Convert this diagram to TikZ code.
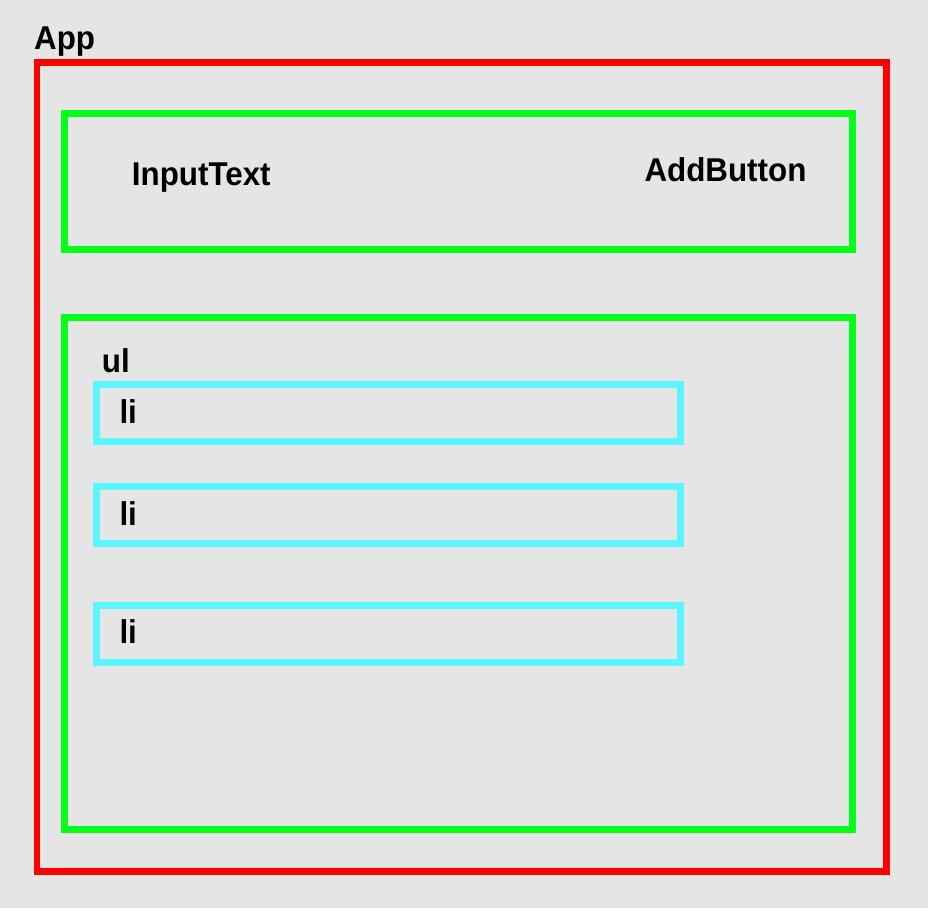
\documentclass[tikz,border=0pt]{standalone}
\usepackage{fontspec}
\setmainfont{Liberation Sans}[FakeStretch=0.95]
\usepackage{tikz}
\definecolor{bggray}{RGB}{229,229,229}
\definecolor{appred}{RGB}{255,0,0}
\definecolor{boxgreen}{RGB}{5,255,25}
\definecolor{itemcyan}{RGB}{90,245,255}
\tikzset{
  box/.style={draw, rectangle, inner sep=0pt, outer sep=0pt, anchor=north west},
  appbox/.style={box, draw=appred, line width=6.6pt},
  partbox/.style={box, draw=boxgreen, line width=7pt},
  itembox/.style={box, draw=itemcyan, line width=7pt},
  tag/.style={anchor=base west, inner sep=0pt, font=\fontsize{33}{40}\selectfont\bfseries}
}

\begin{document}
\begin{tikzpicture}[line cap=butt,line join=miter,x=1pt,y=-1pt]
\fill[bggray] (0,0) rectangle (928,908);
\useasboundingbox (0,0) rectangle (928,908);

% outer component
\node[appbox, minimum width=849.7pt, minimum height=808.6pt] (app) at (37,62.7) {};
\node[tag] (applabel) at (34,49.3) {App};

% header with input and button
\node[partbox, minimum width=788pt, minimum height=136pt] (header) at (64.5,113.7) {};
\node[tag] (input) at (131.7,185) {InputText};
\node[tag] (button) at (644.3,181.7) {AddButton};

% list
\node[partbox, minimum width=787.8pt, minimum height=512.3pt] (list) at (64.5,317) {};
\node[tag] (ullabel) at (101.7,372.7) {ul};

\node[itembox, minimum width=584.2pt, minimum height=56.6pt] (item1) at (96.3,384.7) {};
\node[itembox, minimum width=584.2pt, minimum height=56.6pt] (item2) at (96.3,486.7) {};
\node[itembox, minimum width=584.2pt, minimum height=56.6pt] (item3) at (96.3,605.5) {};
\node[tag] (li1) at (119.3,423.3) {li};
\node[tag] (li2) at (119.3,525.3) {li};
\node[tag] (li3) at (119.3,643.8) {li};
\end{tikzpicture}
\end{document}
